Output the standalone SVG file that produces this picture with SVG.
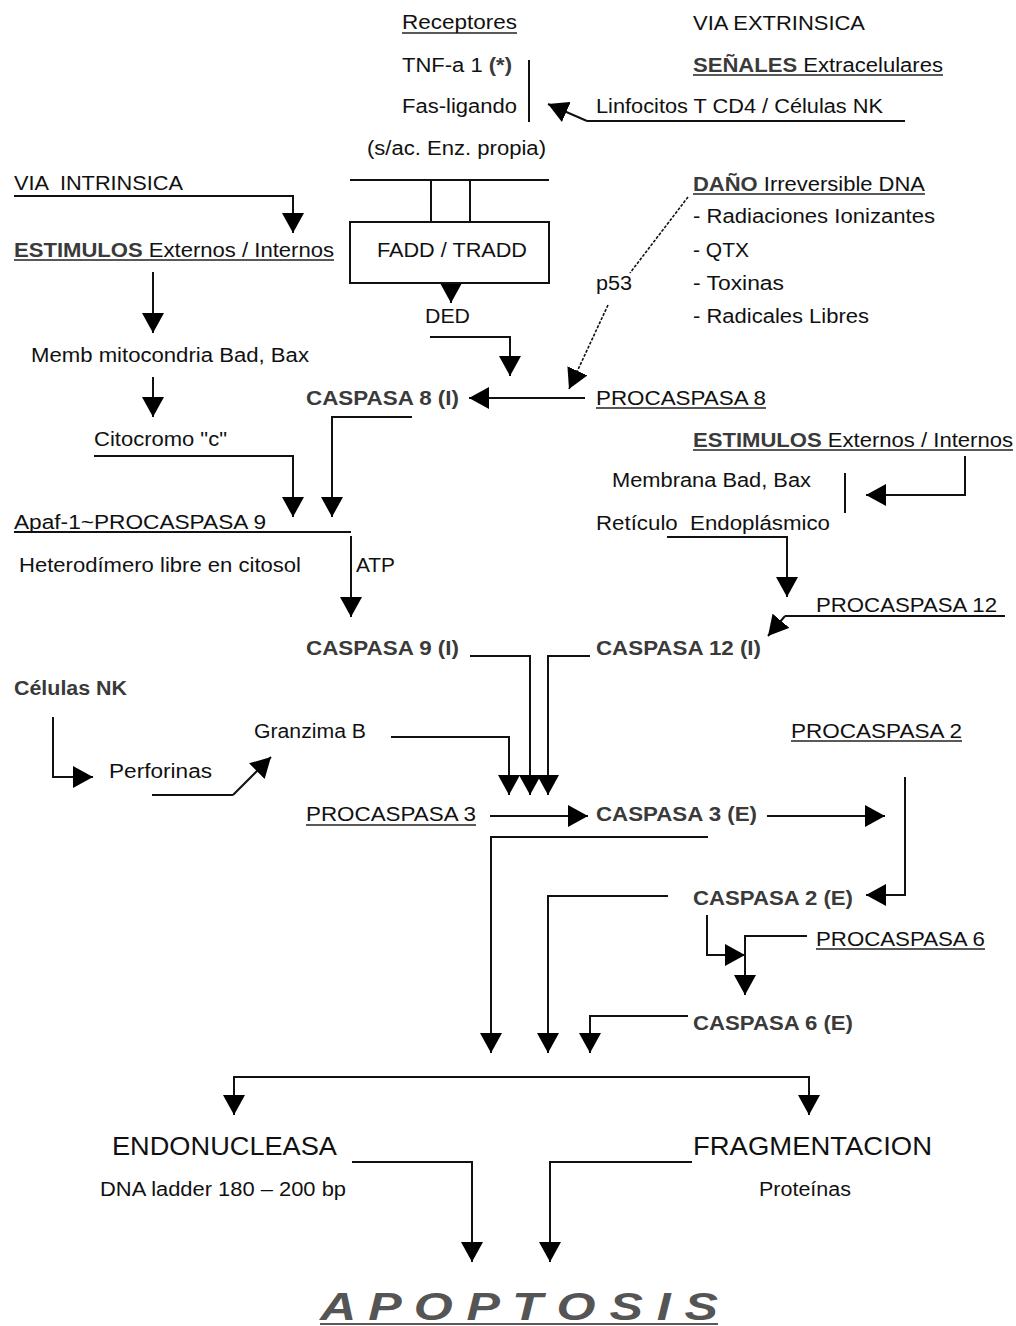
<svg xmlns="http://www.w3.org/2000/svg" width="1016" height="1326" viewBox="0 0 1016 1326">
  <style>
    text { font-family: "Liberation Sans", Arial, sans-serif; font-size: 20px; fill: #111; white-space: pre; }
    .b { font-weight: bold; fill: #3a3a3a; }
    .big { font-size: 26px; }
    .title { font-size: 38px; font-weight: bold; font-style: italic; fill: #555; }
    .ln { fill: none; stroke: #111; stroke-width: 2; }
    .arr { fill: none; stroke: #111; stroke-width: 2; marker-end: url(#head); }
    .dash { fill: none; stroke: #111; stroke-width: 1.6; stroke-dasharray: 3 1.5; }
    .ul { stroke: #222; stroke-width: 1.6; }
  </style>
  <defs>
    <marker id="head" markerUnits="userSpaceOnUse" viewBox="0 0 20 22" refX="20" refY="11" markerWidth="20" markerHeight="22" orient="auto-start-reverse">
      <path d="M0,0 L20,11 L0,22 Z" fill="#000"/>
    </marker>
  </defs>
  <rect width="1016" height="1326" fill="#fff"/>

  <!-- connectors -->
  <g id="connectors">
    <line class="ln" x1="529" y1="60" x2="529" y2="122"/>
    <path class="ln" d="M905,121 H587"/>
    <path class="arr" d="M587,121 L548,104"/>
    <line class="ln" x1="350" y1="180" x2="549" y2="180"/>
    <line class="ln" x1="431" y1="180" x2="431" y2="222"/>
    <line class="ln" x1="470" y1="180" x2="470" y2="222"/>
    <path class="arr" d="M451,283 V303"/>
    <path class="arr" d="M430,337 H510 V376"/>
    <path class="dash" d="M688,197 L630,273"/>
    <path class="dash" d="M608,305 L569,389" style="marker-end:url(#head)"/>
    <path class="arr" d="M585,398 H469"/>
    <path class="arr" d="M14,196 H293 V233"/>
    <path class="arr" d="M153,272 V333"/>
    <path class="arr" d="M153,377 V417"/>
    <path class="arr" d="M94,456 H293 V517"/>
    <path class="arr" d="M412,417 H332 V517"/>
    <path class="ln" d="M14,532 H351"/>
    <path class="arr" d="M351,536 V617"/>
    <path class="arr" d="M965,456 V495 H866"/>
    <line class="ln" x1="845" y1="473" x2="845" y2="513"/>
    <path class="arr" d="M667,537 H787 V597"/>
    <path class="ln" d="M1005,616 H785"/>
    <path class="arr" d="M785,616 L768,636"/>
    <path class="arr" d="M470,656 H530 V795"/>
    <path class="arr" d="M590,656 H548 V795"/>
    <path class="arr" d="M391,737 H509 V795"/>
    <path class="arr" d="M53,717 V777 H93"/>
    <path class="ln" d="M152,795 H233"/>
    <path class="arr" d="M233,795 L271,757"/>
    <path class="arr" d="M490,816 H588"/>
    <path class="arr" d="M767,816 H885"/>
    <path class="arr" d="M905,777 V895 H866"/>
    <path class="arr" d="M708,837 H491 V1053"/>
    <path class="arr" d="M668,896 H548 V1053"/>
    <path class="arr" d="M707,915 V955 H745"/>
    <path class="arr" d="M807,936 H745 V995"/>
    <path class="arr" d="M688,1016 H590 V1053"/>
    <path class="arr" d="M234,1115 V1077 H809 V1115" style="marker-start:url(#head)"/>
    <path class="arr" d="M352,1162 H472 V1262"/>
    <path class="arr" d="M692,1162 H550 V1262"/>
  </g>

  <!-- underlines of labels -->
  <g id="underlines">
    <line class="ul" x1="402" y1="33" x2="517" y2="33"/>
    <line class="ul" x1="693" y1="75" x2="943" y2="75"/>
    <line class="ul" x1="14" y1="260" x2="334" y2="260"/>
    <line class="ul" x1="693" y1="194" x2="925" y2="194"/>
    <line class="ul" x1="596" y1="408" x2="766" y2="408"/>
    <line class="ul" x1="693" y1="450" x2="1013" y2="450"/>
    <line class="ul" x1="791" y1="741" x2="962" y2="741"/>
    <line class="ul" x1="306" y1="825" x2="476" y2="825"/>
    <line class="ul" x1="816" y1="949" x2="985" y2="949"/>
    <line class="ul" x1="320" y1="1324" x2="718" y2="1324" stroke="#666"/>
  </g>

  <g id="receptores"><text x="402" y="29" textLength="115" lengthAdjust="spacingAndGlyphs">Receptores</text></g>
  <g id="tnf"><text x="402" y="72" textLength="110" lengthAdjust="spacingAndGlyphs">TNF-a 1 <tspan class="b" fill="#111">(*)</tspan></text></g>
  <g id="fas"><text x="402" y="113" textLength="115" lengthAdjust="spacingAndGlyphs">Fas-ligando</text></g>
  <g id="sac"><text x="367" y="155" textLength="179" lengthAdjust="spacingAndGlyphs">(s/ac. Enz. propia)</text></g>
  <g id="via-extrinsica"><text x="693" y="30" textLength="172" lengthAdjust="spacingAndGlyphs">VIA EXTRINSICA</text></g>
  <g id="senales"><text x="693" y="72" textLength="250" lengthAdjust="spacingAndGlyphs"><tspan class="b">SEÑALES</tspan> Extracelulares</text></g>
  <g id="linfocitos"><text x="596" y="113" textLength="287" lengthAdjust="spacingAndGlyphs">Linfocitos T CD4 / Células NK</text></g>
  <g id="via-intrinsica"><text x="14" y="190" textLength="169" lengthAdjust="spacingAndGlyphs">VIA  INTRINSICA</text></g>
  <g id="estimulos-int"><text x="14" y="257" textLength="320" lengthAdjust="spacingAndGlyphs"><tspan class="b">ESTIMULOS</tspan> Externos / Internos</text></g>
  <g id="fadd">
    <rect x="350" y="222" width="199" height="61" fill="none" stroke="#111" stroke-width="2"/>
    <text x="377" y="257" textLength="150" lengthAdjust="spacingAndGlyphs">FADD / TRADD</text>
  </g>
  <g id="ded"><text x="425" y="323" textLength="45" lengthAdjust="spacingAndGlyphs">DED</text></g>
  <g id="p53"><text x="596" y="290" textLength="36" lengthAdjust="spacingAndGlyphs">p53</text></g>
  <g id="dano">
    <text x="693" y="191" textLength="232" lengthAdjust="spacingAndGlyphs"><tspan class="b">DAÑO</tspan> Irreversible DNA</text>
    <text x="693" y="223" textLength="242" lengthAdjust="spacingAndGlyphs">- Radiaciones Ionizantes</text>
    <text x="693" y="257" textLength="56" lengthAdjust="spacingAndGlyphs">- QTX</text>
    <text x="693" y="290" textLength="91" lengthAdjust="spacingAndGlyphs">- Toxinas</text>
    <text x="693" y="323" textLength="176" lengthAdjust="spacingAndGlyphs">- Radicales Libres</text>
  </g>
  <g id="memb-mito"><text x="31" y="362" textLength="278" lengthAdjust="spacingAndGlyphs">Memb mitocondria Bad, Bax</text></g>
  <g id="caspasa8"><text class="b" x="306" y="405" textLength="153" lengthAdjust="spacingAndGlyphs">CASPASA 8 (I)</text></g>
  <g id="procaspasa8"><text x="596" y="405" textLength="170" lengthAdjust="spacingAndGlyphs">PROCASPASA 8</text></g>
  <g id="citocromo"><text x="94" y="446" textLength="133" lengthAdjust="spacingAndGlyphs">Citocromo "c"</text></g>
  <g id="estimulos-ext"><text x="693" y="447" textLength="320" lengthAdjust="spacingAndGlyphs"><tspan class="b">ESTIMULOS</tspan> Externos / Internos</text></g>
  <g id="membrana"><text x="612" y="487" textLength="199" lengthAdjust="spacingAndGlyphs">Membrana Bad, Bax</text></g>
  <g id="apaf"><text x="14" y="529" textLength="252" lengthAdjust="spacingAndGlyphs">Apaf-1~PROCASPASA 9</text></g>
  <g id="reticulo"><text x="596" y="530" textLength="234" lengthAdjust="spacingAndGlyphs">Retículo  Endoplásmico</text></g>
  <g id="heterodimero"><text x="19" y="572" textLength="282" lengthAdjust="spacingAndGlyphs">Heterodímero libre en citosol</text></g>
  <g id="atp"><text x="356" y="572" textLength="39" lengthAdjust="spacingAndGlyphs">ATP</text></g>
  <g id="procaspasa12"><text x="816" y="612" textLength="181" lengthAdjust="spacingAndGlyphs">PROCASPASA 12</text></g>
  <g id="caspasa9"><text class="b" x="306" y="655" textLength="153" lengthAdjust="spacingAndGlyphs">CASPASA 9 (I)</text></g>
  <g id="caspasa12"><text class="b" x="596" y="655" textLength="165" lengthAdjust="spacingAndGlyphs">CASPASA 12 (I)</text></g>
  <g id="celulas-nk"><text class="b" x="14" y="695" textLength="113" lengthAdjust="spacingAndGlyphs">Células NK</text></g>
  <g id="granzima"><text x="254" y="738" textLength="112" lengthAdjust="spacingAndGlyphs">Granzima B</text></g>
  <g id="procaspasa2"><text x="791" y="738" textLength="171" lengthAdjust="spacingAndGlyphs">PROCASPASA 2</text></g>
  <g id="perforinas"><text x="109" y="778" textLength="103" lengthAdjust="spacingAndGlyphs">Perforinas</text></g>
  <g id="procaspasa3"><text x="306" y="821" textLength="170" lengthAdjust="spacingAndGlyphs">PROCASPASA 3</text></g>
  <g id="caspasa3"><text class="b" x="596" y="821" textLength="161" lengthAdjust="spacingAndGlyphs">CASPASA 3 (E)</text></g>
  <g id="caspasa2"><text class="b" x="693" y="905" textLength="160" lengthAdjust="spacingAndGlyphs">CASPASA 2 (E)</text></g>
  <g id="procaspasa6"><text x="816" y="946" textLength="169" lengthAdjust="spacingAndGlyphs">PROCASPASA 6</text></g>
  <g id="caspasa6"><text class="b" x="693" y="1030" textLength="160" lengthAdjust="spacingAndGlyphs">CASPASA 6 (E)</text></g>
  <g id="endonucleasa">
    <text class="big" x="112" y="1155" textLength="225" lengthAdjust="spacingAndGlyphs">ENDONUCLEASA</text>
    <text x="100" y="1196" textLength="246" lengthAdjust="spacingAndGlyphs">DNA ladder 180 – 200 bp</text>
  </g>
  <g id="fragmentacion">
    <text class="big" x="693" y="1155" textLength="239" lengthAdjust="spacingAndGlyphs">FRAGMENTACION</text>
    <text x="759" y="1196" textLength="92" lengthAdjust="spacingAndGlyphs">Proteínas</text>
  </g>
  <g id="apoptosis"><text class="title" x="320" y="1320" textLength="398" lengthAdjust="spacingAndGlyphs">A P O P T O S I S</text></g>
</svg>
